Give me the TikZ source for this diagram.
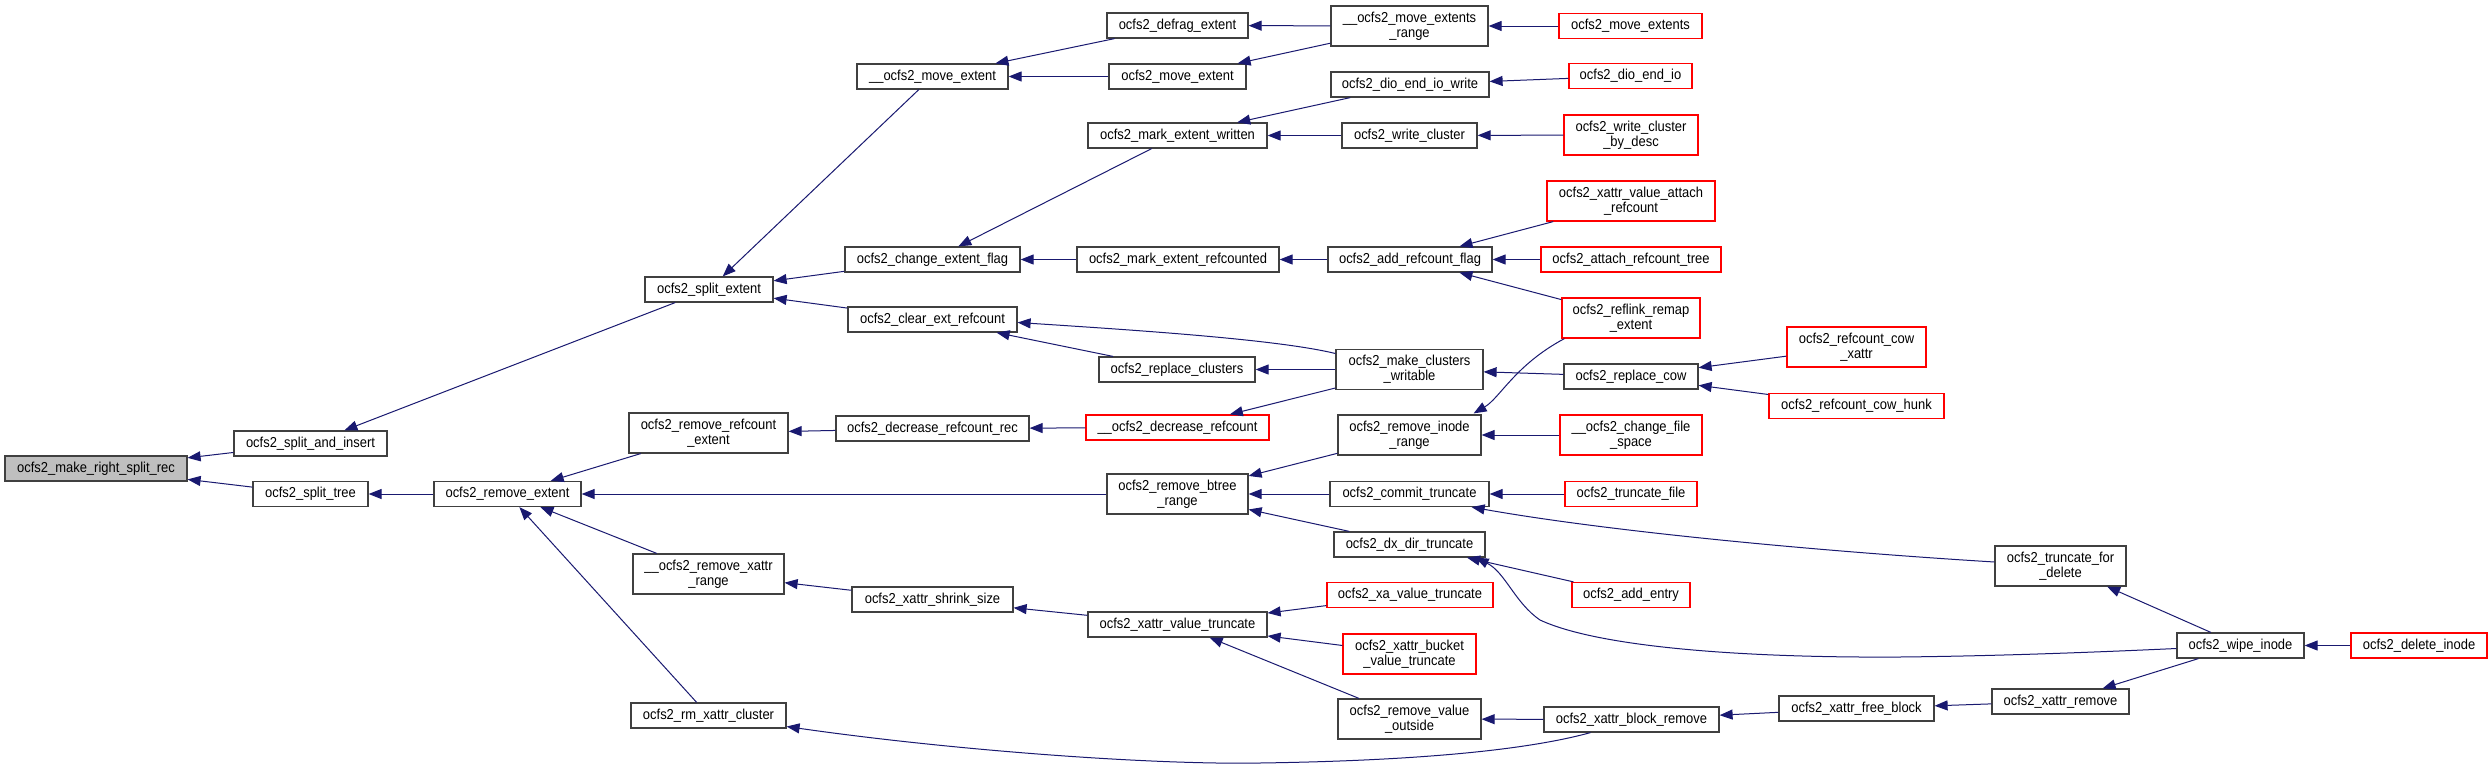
\documentclass[tikz,border=0pt]{standalone}
\usepackage{fontspec}
\setmainfont{Liberation Sans}[FakeStretch=0.9]
\usetikzlibrary{arrows.meta}
\definecolor{edgeblue}{HTML}{191970}
\definecolor{rootgray}{HTML}{BFBFBF}
\definecolor{boxline}{HTML}{404040}
\definecolor{redline}{HTML}{FF0000}
\begin{document}
\begin{tikzpicture}[x=1pt,y=-1pt,
  box/.style={draw=boxline, line width=1.2pt, fill=white, inner sep=0pt, align=center,
    font=\fontsize{14.4pt}{15pt}\selectfont, minimum height=25pt},
  tall/.style={minimum height=40pt},
  redbox/.style={draw=redline},
  rootbox/.style={fill=rootgray},
  callarrow/.style={draw=edgeblue, line width=1pt, {Triangle[length=13pt,width=10pt]}-}]
\useasboundingbox[fill=white] (0,0) rectangle (2492,771);

% column 1-4
\node[box,rootbox,minimum width=182pt] (root) at (96,468.5) {ocfs2\_make\_right\_split\_rec};
\node[box,minimum width=153pt] (sai) at (310.5,443.5) {ocfs2\_split\_and\_insert};
\node[box,minimum width=115pt] (st) at (310.5,494) {ocfs2\_split\_tree};
\node[box,minimum width=147pt] (re) at (507.5,494) {ocfs2\_remove\_extent};
\node[box,minimum width=128pt] (se) at (709,289.5) {ocfs2\_split\_extent};
\node[box,tall,minimum width=159pt] (rre) at (708.5,433) {ocfs2\_remove\_refcount\\\_extent};
\node[box,tall,minimum width=151pt] (rxr) at (708.5,574) {\_\_ocfs2\_remove\_xattr\\\_range};
\node[box,minimum width=155pt] (rmx) at (708.5,715.5) {ocfs2\_rm\_xattr\_cluster};

% column 5
\node[box,minimum width=151pt] (me) at (932.5,76.5) {\_\_ocfs2\_move\_extent};
\node[box,minimum width=175pt] (cef) at (932.5,259.5) {ocfs2\_change\_extent\_flag};
\node[box,minimum width=169pt] (cer) at (932.5,319.5) {ocfs2\_clear\_ext\_refcount};
\node[box,minimum width=193pt] (drr) at (932.5,428.5) {ocfs2\_decrease\_refcount\_rec};
\node[box,minimum width=161pt] (xss) at (932.5,599.5) {ocfs2\_xattr\_shrink\_size};

% column 6
\node[box,minimum width=141pt] (de) at (1177.5,25.5) {ocfs2\_defrag\_extent};
\node[box,minimum width=137pt] (mve) at (1177.5,76.5) {ocfs2\_move\_extent};
\node[box,minimum width=179pt] (mew) at (1177.5,135.5) {ocfs2\_mark\_extent\_written};
\node[box,minimum width=202pt] (mer) at (1178,259.5) {ocfs2\_mark\_extent\_refcounted};
\node[box,minimum width=156pt] (rcl) at (1177,369.5) {ocfs2\_replace\_clusters};
\node[box,redbox,minimum width=183pt] (dr) at (1177.5,427.5) {\_\_ocfs2\_decrease\_refcount};
\node[box,tall,minimum width=141pt] (rbr) at (1177.5,494) {ocfs2\_remove\_btree\\\_range};
\node[box,minimum width=179pt] (xvt) at (1177.5,624.5) {ocfs2\_xattr\_value\_truncate};

% column 7
\node[box,tall,minimum width=157pt] (mxr) at (1409.5,26) {\_\_ocfs2\_move\_extents\\\_range};
\node[box,minimum width=158pt] (deiw) at (1410,84.5) {ocfs2\_dio\_end\_io\_write};
\node[box,minimum width=135pt] (wc) at (1409.5,135.5) {ocfs2\_write\_cluster};
\node[box,minimum width=164pt] (arf) at (1410,259.5) {ocfs2\_add\_refcount\_flag};
\node[box,tall,minimum width=147pt] (mcw) at (1409.5,369.5) {ocfs2\_make\_clusters\\\_writable};
\node[box,tall,minimum width=143pt] (rir) at (1409.5,435) {ocfs2\_remove\_inode\\\_range};
\node[box,minimum width=159pt] (ct) at (1409.5,494) {ocfs2\_commit\_truncate};
\node[box,minimum width=151pt] (ddt) at (1409.5,544.5) {ocfs2\_dx\_dir\_truncate};
\node[box,redbox,minimum width=166pt] (xavt) at (1410,595) {ocfs2\_xa\_value\_truncate};
\node[box,redbox,tall,minimum width=133pt] (xbvt) at (1409.5,654) {ocfs2\_xattr\_bucket\\\_value\_truncate};
\node[box,tall,minimum width=143pt] (rvo) at (1409.5,719) {ocfs2\_remove\_value\\\_outside};

% column 8
\node[box,redbox,minimum width=143pt] (mvx) at (1630.5,26) {ocfs2\_move\_extents};
\node[box,redbox,minimum width=123pt] (dei) at (1630.5,76) {ocfs2\_dio\_end\_io};
\node[box,redbox,tall,minimum width=134pt] (wcd) at (1631,135) {ocfs2\_write\_cluster\\\_by\_desc};
\node[box,redbox,tall,minimum width=168pt] (xvar) at (1631,201) {ocfs2\_xattr\_value\_attach\\\_refcount};
\node[box,redbox,minimum width=180pt] (art) at (1631,259.5) {ocfs2\_attach\_refcount\_tree};
\node[box,redbox,tall,minimum width=138pt] (rrm) at (1631,318) {ocfs2\_reflink\_remap\\\_extent};
\node[box,minimum width=134pt] (rcow) at (1631,376.5) {ocfs2\_replace\_cow};
\node[box,redbox,tall,minimum width=142pt] (cfs) at (1631,435) {\_\_ocfs2\_change\_file\\\_space};
\node[box,redbox,minimum width=132pt] (tf) at (1631,494) {ocfs2\_truncate\_file};
\node[box,redbox,minimum width=118pt] (ae) at (1631,595) {ocfs2\_add\_entry};
\node[box,minimum width=175pt] (xbr) at (1631.5,719.5) {ocfs2\_xattr\_block\_remove};

% column 9-12
\node[box,redbox,tall,minimum width=139pt] (rcx) at (1856.5,347) {ocfs2\_refcount\_cow\\\_xattr};
\node[box,redbox,minimum width=175pt] (rch) at (1856.5,406) {ocfs2\_refcount\_cow\_hunk};
\node[box,minimum width=155pt] (xfb) at (1856.5,708.5) {ocfs2\_xattr\_free\_block};
\node[box,tall,minimum width=131pt] (tfd) at (2060.5,566) {ocfs2\_truncate\_for\\\_delete};
\node[box,minimum width=137pt] (xr) at (2060.5,701.5) {ocfs2\_xattr\_remove};
\node[box,minimum width=127pt] (wi) at (2240.5,645.5) {ocfs2\_wipe\_inode};
\node[box,redbox,minimum width=136pt] (di) at (2419,645.5) {ocfs2\_delete\_inode};

% edges (arrow at callee)
\draw[callarrow] (root) -- (sai);
\draw[callarrow] (root) -- (st);
\draw[callarrow] (sai) -- (se);
\draw[callarrow] (st) -- (re);
\draw[callarrow] (se) -- (me);
\draw[callarrow] (se) -- (cef);
\draw[callarrow] (se) -- (cer);
\draw[callarrow] (me) -- (de);
\draw[callarrow] (me) -- (mve);
\draw[callarrow] (de) -- (mxr);
\draw[callarrow] (mve) -- (mxr);
\draw[callarrow] (mxr) -- (mvx);
\draw[callarrow] (cef) -- (mew);
\draw[callarrow] (cef) -- (mer);
\draw[callarrow] (mew) -- (deiw);
\draw[callarrow] (mew) -- (wc);
\draw[callarrow] (deiw) -- (dei);
\draw[callarrow] (wc) -- (wcd);
\draw[callarrow] (mer) -- (arf);
\draw[callarrow] (arf) -- (xvar);
\draw[callarrow] (arf) -- (art);
\draw[callarrow] (arf) -- (rrm);
\draw[callarrow] ([yshift=-3pt]cer.east) .. controls (1150,331) and (1280,340) .. ([yshift=16pt]mcw.west);
\draw[callarrow] (cer) -- (rcl);
\draw[callarrow] (rcl) -- (mcw);
\draw[callarrow] (dr) -- (mcw);
\draw[callarrow] (mcw) -- (rcow);
\draw[callarrow] (rcow) -- (rcx);
\draw[callarrow] (rcow) -- (rch);
\draw[callarrow] ([xshift=-8pt,yshift=1pt]rir.north east) .. controls (1500,398) and (1515,365) .. ([xshift=3pt]rrm.south west);
\draw[callarrow] (rir) -- (cfs);
\draw[callarrow] (rbr) -- (rir);
\draw[callarrow] (rbr) -- (ct);
\draw[callarrow] (rbr) -- (ddt);
\draw[callarrow] (ct) -- (tf);
\draw[callarrow] ([xshift=-18pt]ct.south east) .. controls (1600,530) and (1800,550) .. ([yshift=4pt]tfd.west);
\draw[callarrow] (ddt) -- (ae);
\draw[callarrow] ([xshift=-10pt]ddt.south east) .. controls (1505,572) and (1515,603) .. (1540,620)
   .. controls (1600,648) and (1750,658) .. (1900,657)
   .. controls (2000,656) and (2100,652) .. ([yshift=-3pt]wi.west);
\draw[callarrow] (tfd) -- (wi);
\draw[callarrow] (wi) -- (di);
\draw[callarrow] (xr) -- (wi);
\draw[callarrow] (xfb) -- (xr);
\draw[callarrow] (xbr) -- (xfb);
\draw[callarrow] (rvo) -- (xbr);
\draw[callarrow] ([yshift=-11pt]rmx.east) .. controls (950,750) and (1150,765) .. (1260,763)
   .. controls (1400,761) and (1520,752) .. ([xshift=-41pt]xbr.south);
\draw[callarrow] (xvt) -- (xavt);
\draw[callarrow] (xvt) -- (xbvt);
\draw[callarrow] (xvt) -- (rvo);
\draw[callarrow] (xss) -- (xvt);
\draw[callarrow] (rxr) -- (xss);
\draw[callarrow] (re) -- (rre);
\draw[callarrow] (re) -- (rbr);
\draw[callarrow] (re) -- (rxr);
\draw[callarrow] (re) -- (rmx);
\draw[callarrow] (rre) -- (drr);
\draw[callarrow] (drr) -- (dr);
\end{tikzpicture}
\end{document}
